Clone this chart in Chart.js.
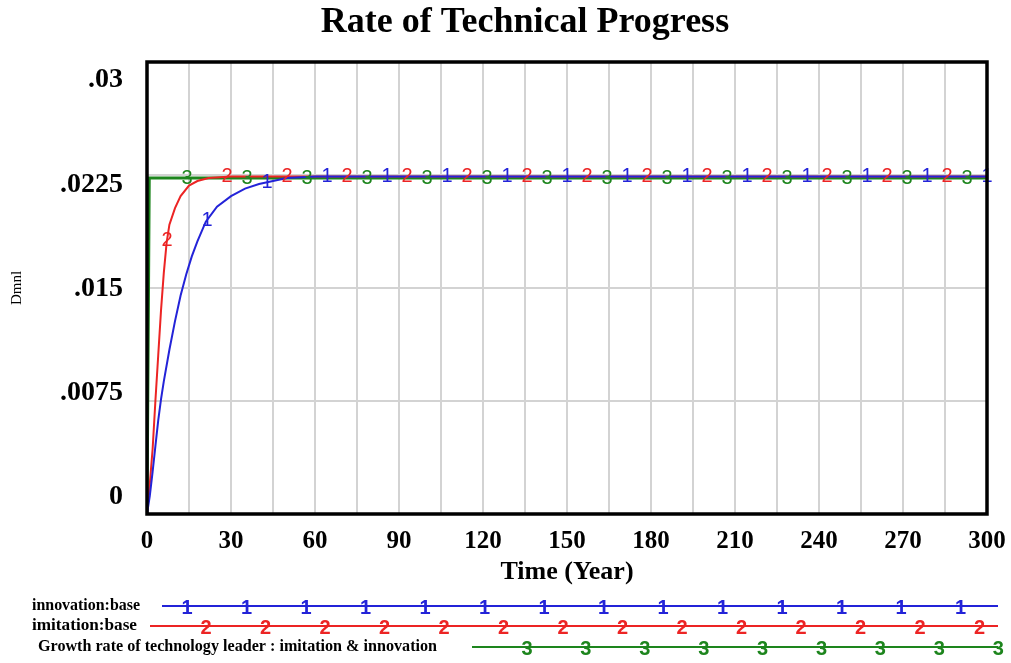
<!DOCTYPE html>
<html>
<head>
<meta charset="utf-8">
<script src="https://cdn.jsdelivr.net/npm/chart.js@4.4.1/dist/chart.umd.min.js"></script>
<style>
    html, body { margin: 0; padding: 0; background: #fff; }
    #grafico { display: block; }
</style>
</head>
<body>
<canvas id="grafico" width="1011" height="663"></canvas>
<script>
// ==========================================
// Rate of Technical Progress
// =========================================

// Série 1: innovation:base
const innovTempo = [0, 1, 2, 3, 4, 5, 6, 8, 10, 12, 14, 16, 18, 21, 25, 30, 35, 40, 45, 50, 60, 80, 300];
const innovValor = [0, .0012, .0028, .0045, .0062, .0076, .0088, .0109, .0128, .0145, .0159, .0171, .0181, .0194, .0204, .0211, .0216, .0219, .0221, .0223, .0224, .0224, .0224];

// Série 2: imitation:base
const imitTempo = [0, 0.5, 1, 2, 3, 4, 5, 6, 7, 8, 10, 12, 15, 18, 22, 30, 50, 300];
const imitValor = [0, .0010, .0020, .0043, .0075, .0105, .0135, .0160, .0180, .0192, .0203, .0211, .0218, .0221, .0223, .0224, .0224, .0224];

// Série 3: Growth rate of technology leader
const liderTempo = [0, 0.8, 300];
const liderValor = [0, .0223, .0223];

// Eixos
const yTicks = [0, 0.0075, 0.015, 0.0225, 0.03];
const yRotulos = ["0", ".0075", ".015", ".0225", ".03"];
const xPasso = 15;
const xRotuloPasso = 30;

const AZUL = "#2323d8";
const VERMELHO = "#ec2424";
const VERDE = "#1d851d";
const SERIF = "'Liberation Serif', 'Times New Roman', serif";
const SANS = "'Liberation Sans', Arial, sans-serif";

const pares = (t, v) => t.map((x, i) => ({ x: x, y: v[i] }));

function valorEm(tempos, valores, t) {
    for (let i = 1; i < tempos.length; i++) {
        if (t <= tempos[i]) {
            const f = (t - tempos[i - 1]) / (tempos[i] - tempos[i - 1]);
            return valores[i - 1] + f * (valores[i] - valores[i - 1]);
        }
    }
    return valores[valores.length - 1];
}

// Marcadores numerados no gráfico (estilo Vensim)
const series = [
    { tempos: innovTempo, valores: innovValor, cor: AZUL, marca: "1", fase: 3 },
    { tempos: imitTempo, valores: imitValor, cor: VERMELHO, marca: "2", fase: 1 },
    { tempos: liderTempo, valores: liderValor, cor: VERDE, marca: "3", fase: 2 }
];

const marcadores = {
    id: "marcadores",
    afterDatasetsDraw(chart) {
        const { ctx, scales: { x, y } } = chart;
        const passo = 300 / 42;
        ctx.save();
        ctx.font = "20px " + SANS;
        ctx.textAlign = "center";
        ctx.textBaseline = "middle";
        [2, 1, 0].forEach(k => {
            const s = series[k];
            ctx.fillStyle = s.cor;
            for (let n = s.fase; n <= 42; n += 3) {
                const t = n * passo;
                ctx.fillText(s.marca, x.getPixelForValue(t), y.getPixelForValue(valorEm(s.tempos, s.valores, t)));
            }
        });
        ctx.restore();
    }
};

// Moldura, título e legenda inferior
const moldura = {
    id: "moldura",
    afterDraw(chart) {
        const { ctx, chartArea: a } = chart;
        ctx.save();
        ctx.strokeStyle = "#000";
        ctx.lineWidth = 3.5;
        ctx.strokeRect(a.left, a.top, a.right - a.left, a.bottom - a.top);

        ctx.fillStyle = "#000";
        ctx.font = "bold 36px " + SERIF;
        ctx.textAlign = "center";
        ctx.textBaseline = "alphabetic";
        ctx.fillText("Rate of Technical Progress", 525, 32);

        const linhas = [
            { texto: "innovation:base", x0: 32, largura: 108, y: 606, cor: AZUL, l0: 162, marca: "1", m0: 187, passo: 59.5, n: 14 },
            { texto: "imitation:base", x0: 32, largura: 105, y: 626, cor: VERMELHO, l0: 150, marca: "2", m0: 206, passo: 59.5, n: 14 },
            { texto: "Growth rate of technology leader : imitation & innovation", x0: 38, largura: 399, y: 647, cor: VERDE, l0: 472, marca: "3", m0: 527, passo: 58.9, n: 9 }
        ];
        linhas.forEach(l => {
            ctx.fillStyle = "#000";
            ctx.font = "bold 17px " + SERIF;
            ctx.textAlign = "left";
            ctx.textBaseline = "middle";
            const w = ctx.measureText(l.texto).width;
            ctx.save();
            ctx.translate(l.x0, l.y);
            ctx.scale(l.largura / w, 1);
            ctx.fillText(l.texto, 0, 0);
            ctx.restore();

            ctx.strokeStyle = l.cor;
            ctx.lineWidth = 2;
            ctx.beginPath();
            ctx.moveTo(l.l0, l.y);
            ctx.lineTo(998, l.y);
            ctx.stroke();

            ctx.fillStyle = l.cor;
            ctx.font = "bold 20px " + SANS;
            ctx.textAlign = "center";
            for (let i = 0; i < l.n; i++) {
                ctx.fillText(l.marca, l.m0 + i * l.passo, l.y + 2);
            }
        });
        ctx.restore();
    }
};

const grade = { color: "#d3d3d3", lineWidth: 2, drawTicks: false };

new Chart(document.getElementById("grafico"), {
    type: "line",
    data: {
        datasets: [
            { label: "innovation:base", data: pares(innovTempo, innovValor), borderColor: AZUL, borderWidth: 2, pointRadius: 0, tension: 0 },
            { label: "imitation:base", data: pares(imitTempo, imitValor), borderColor: VERMELHO, borderWidth: 2, pointRadius: 0, tension: 0 },
            { label: "Growth rate of technology leader : imitation & innovation", data: pares(liderTempo, liderValor), borderColor: VERDE, borderWidth: 3, pointRadius: 0, tension: 0 }
        ]
    },
    options: {
        responsive: false, animation: false,
        devicePixelRatio: 1,
        layout: { padding: { top: 62, right: 24, bottom: 73, left: 0 } },
        plugins: { legend: { display: false }, title: { display: false }, tooltip: { enabled: false } },
        scales: {
            x: {
                type: "linear", min: 0, max: 300,
                ticks: {
                    stepSize: xPasso, autoSkip: false, maxRotation: 0, padding: 13, color: "#000",
                    font: { family: SERIF, size: 25, weight: "bold" },
                    callback: v => v % xRotuloPasso === 0 ? String(v) : ""
                },
                grid: grade,
                border: { display: false },
                title: { display: true, text: "Time (Year)", color: "#000", font: { family: SERIF, size: 26, weight: "bold" }, padding: { top: 0, bottom: 2 } },
                afterFit: s => { s.height = 76; s.paddingRight = 0; s.paddingLeft = 0; }
            },
            y: {
                min: 0, max: 0.03,
                ticks: { display: false, stepSize: 0.0075 },
                grid: grade,
                border: { display: false },
                afterFit: s => { s.width = 0; }
            },
            yRotulo: {
                position: "left",
                min: -0.00122, max: 0.0313,
                grid: { display: false, drawTicks: false },
                border: { display: false },
                afterBuildTicks: s => { s.ticks = yTicks.map(v => ({ value: v })); },
                ticks: {
                    autoSkip: false, padding: 24, color: "#000",
                    font: { family: SERIF, size: 28, weight: "bold" },
                    callback: (v, i) => yRotulos[i]
                },
                title: { display: true, text: "Dmnl", color: "#000", font: { family: SERIF, size: 15 }, padding: { top: 8, bottom: 0 } },
                afterFit: s => { s.width = 147; }
            }
        }
    },
    plugins: [marcadores, moldura]
});
</script>
</body>
</html>
